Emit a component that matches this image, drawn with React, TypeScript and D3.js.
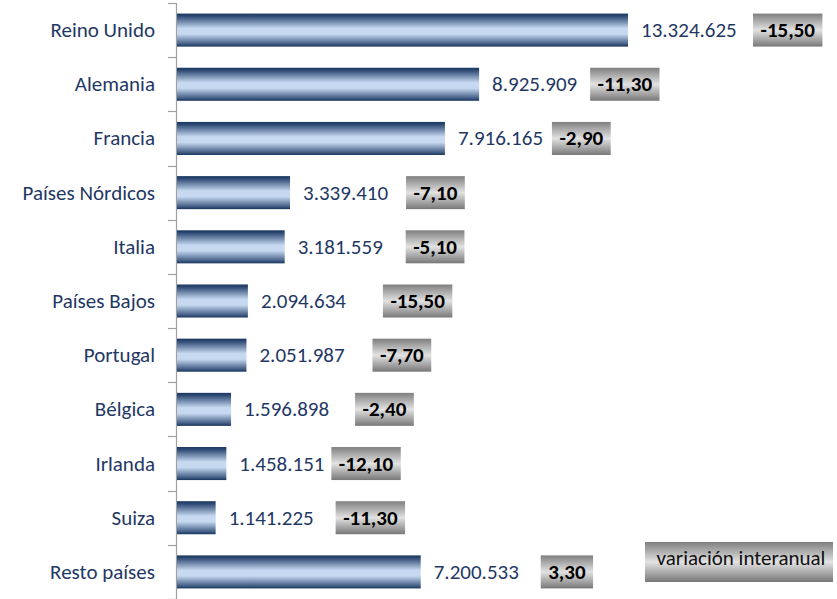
import { useEffect, useRef } from 'react';
import * as d3 from 'd3';

const countries = [
  'Reino Unido', 'Alemania', 'Francia', 'Países Nórdicos', 'Italia',
  'Países Bajos', 'Portugal', 'Bélgica', 'Irlanda', 'Suiza', 'Resto países',
];
const tourists = [
  13324625, 8925909, 7916165, 3339410, 3181559,
  2094634, 2051987, 1596898, 1458151, 1141225, 7200533,
];
const variation = [-15.5, -11.3, -2.9, -7.1, -5.1, -15.5, -7.7, -2.4, -12.1, -11.3, 3.3];
const legendText = 'variación interanual';

// hand placed label boxes, distance from bar end in px
const boxOffset = [125, 111, 107, 116, 121, 135, 126, 124, 105, 120, 120];

const FONT = 'Carlito, Calibri, "Open Sans", sans-serif';
const FS = 21;

function App() {
  const svgRef = useRef<SVGSVGElement>(null);

  useEffect(() => {
    const width = 837;
    const height = 599;
    const svg = d3.select(svgRef.current).attr('width', width).attr('height', height);
    svg.selectAll('*').remove();

    const defs = svg.append('defs');
    const barGrad = defs.append('linearGradient').attr('id', 'barGrad')
      .attr('x1', 0).attr('y1', 0).attr('x2', 0).attr('y2', 1);
    [[0, '#17365d'], [0.08, '#2f4a74'], [0.45, '#c6d9f1'], [0.62, '#c6d9f1'], [0.92, '#435d85'], [1, '#17365d']]
      .forEach(([o, c]) => barGrad.append('stop').attr('offset', o as number).attr('stop-color', c as string));
    const boxGrad = defs.append('linearGradient').attr('id', 'boxGrad')
      .attr('x1', 0).attr('y1', 0).attr('x2', 0).attr('y2', 1);
    [[0, '#7f7f7f'], [0.5, '#e2e2e2'], [1, '#787878']]
      .forEach(([o, c]) => boxGrad.append('stop').attr('offset', o as number).attr('stop-color', c as string));

    const x0 = 177;
    const x = d3.scaleLinear().domain([0, 13324625]).range([x0, 628]);
    const y = d3.scaleBand<string>().domain(countries).range([3, 599])
      .paddingInner(0.39).paddingOuter(0.195);

    // axis
    const axis = svg.append('g').attr('stroke', '#a0a0a0').attr('stroke-width', 1.2);
    axis.append('line').attr('x1', 176.5).attr('x2', 176.5).attr('y1', 3).attr('y2', 599);
    d3.range(countries.length + 1).forEach(i => {
      const ty = Math.round(3 + y.step() * i) + 0.5;
      axis.append('line').attr('x1', 168).attr('x2', 176.5).attr('y1', ty).attr('y2', ty);
    });

    const rows = countries.map((c, i) => ({ c, v: tourists[i], d: variation[i], off: boxOffset[i] }));
    const fmt = (v: number) => d3.format(',')(v).replace(/,/g, '.');
    const fmtVar = (v: number) => v.toFixed(2).replace('.', ',');

    svg.append('g').selectAll('text').data(rows).enter().append('text')
      .attr('x', 155).attr('y', d => y(d.c)! + y.bandwidth() / 2)
      .attr('text-anchor', 'end').attr('dominant-baseline', 'central')
      .attr('font-family', FONT).attr('font-size', FS).attr('fill', '#1f3864')
      .text(d => d.c);

    svg.append('g').selectAll('rect').data(rows).enter().append('rect')
      .attr('x', x0).attr('y', d => y(d.c)!)
      .attr('width', d => x(d.v) - x0).attr('height', y.bandwidth())
      .attr('fill', 'url(#barGrad)');

    svg.append('g').selectAll('text').data(rows).enter().append('text')
      .attr('x', d => x(d.v) + 13).attr('y', d => y(d.c)! + y.bandwidth() / 2)
      .attr('dominant-baseline', 'central')
      .attr('font-family', FONT).attr('font-size', FS).attr('fill', '#1f3864')
      .text(d => fmt(d.v));

    const boxes = svg.append('g').selectAll('g').data(rows).enter().append('g');
    boxes.each(function (d) {
      const g = d3.select(this);
      const cy = y(d.c)! + y.bandwidth() / 2;
      const rect = g.append('rect').attr('fill', 'url(#boxGrad)');
      const t = g.append('text')
        .attr('y', cy).attr('dominant-baseline', 'central').attr('text-anchor', 'middle')
        .attr('font-family', FONT).attr('font-size', FS).attr('font-weight', 'bold').attr('fill', '#000')
        .text(fmtVar(d.d));
      const w = (t.node() as SVGTextElement).getComputedTextLength() + 15;
      const bx = x(d.v) + d.off;
      rect.attr('x', bx).attr('y', cy - 16.5).attr('width', w).attr('height', 33);
      t.attr('x', bx + w / 2);
    });

    // legend box
    const lg = svg.append('g');
    lg.append('rect').attr('x', 645).attr('y', 542).attr('width', 188).attr('height', 40)
      .attr('fill', 'url(#boxGrad)');
    lg.append('text').attr('x', 741).attr('y', 558).attr('text-anchor', 'middle')
      .attr('dominant-baseline', 'central')
      .attr('font-family', FONT).attr('font-size', FS).attr('fill', '#111')
      .text(legendText);
  }, []);

  return <svg ref={svgRef} style={{ position: 'absolute', left: 0, top: 0 }}></svg>;
}

export default App;
